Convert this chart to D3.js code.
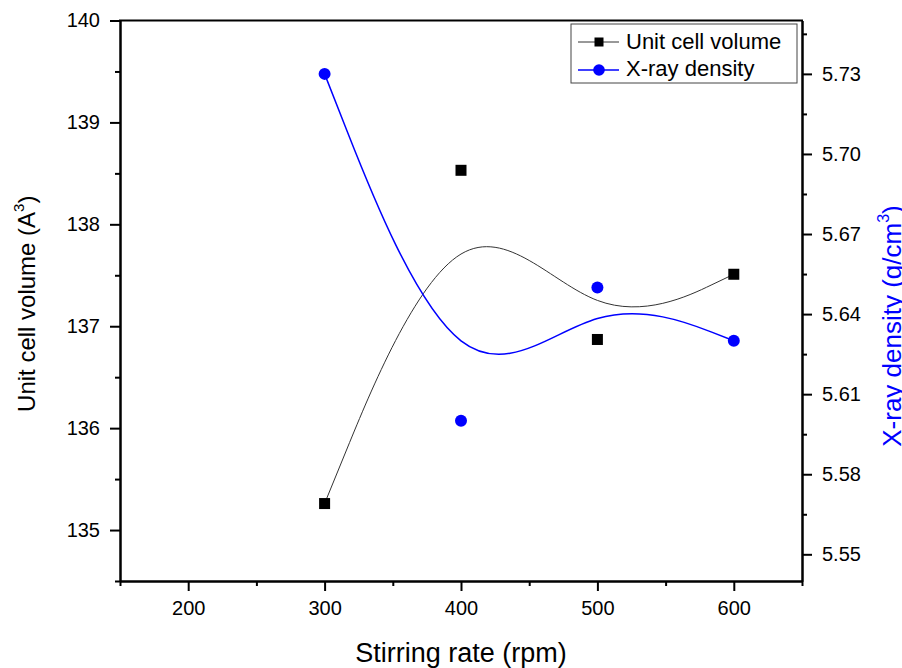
<!DOCTYPE html>
<html>
<head>
<meta charset="utf-8">
<title>Unit cell volume and X-ray density</title>
<script src="https://d3js.org/d3.v7.min.js"></script>
<style>
  body { margin: 0; background: #fff; }
  svg text { font-family: Arial, "Liberation Sans", sans-serif; }
  .axis path, .axis line { stroke: #000; stroke-width: 2; }
  .axis text { font-size: 20px; fill: #000; }
</style>
</head>
<body>
<div id="chart"></div>
<script>
// stirring rate (rpm)
const rates = [300, 400, 500, 600];
// unit cell volume (A^3)
const volume = [135.26, 138.53, 136.87, 137.51];
// X-ray density (g/cm^3)
const density = [5.730, 5.600, 5.650, 5.630];

const xMajor = [200, 300, 400, 500, 600];
const xMinor = [150, 250, 350, 450, 550, 650];
const volMajor = [135, 136, 137, 138, 139, 140];
const volMinor = [134.5, 135.5, 136.5, 137.5, 138.5, 139.5];
const denMajor = [5.55, 5.58, 5.61, 5.64, 5.67, 5.70, 5.73];
const denMinor = [5.565, 5.595, 5.625, 5.655, 5.685, 5.715, 5.745];

const width = 902, height = 668;
const pLeft = 120, pRight = 802, pTop = 20.5, pBottom = 581;

const svg = d3.select("#chart").append("svg")
  .attr("width", width).attr("height", height);

const x = d3.scaleLinear().domain([150, 650]).range([pLeft, pRight]);
const yL = d3.scaleLinear().domain([134.5, 140]).range([pBottom, pTop]);
const yR = d3.scaleLinear().domain([5.54, 5.75]).range([pBottom, pTop]);

// axes
svg.append("g").attr("class", "axis")
  .attr("transform", `translate(0,${pBottom})`)
  .call(d3.axisBottom(x).tickValues(xMajor).tickSize(10).tickSizeOuter(0).tickPadding(10).tickFormat(d3.format("d")));
svg.append("g").attr("class", "axis")
  .attr("transform", `translate(0,${pBottom})`)
  .call(d3.axisBottom(x).tickValues(xMinor).tickSize(5).tickSizeOuter(0).tickFormat(""));

svg.append("g").attr("class", "axis")
  .attr("transform", `translate(${pLeft},0)`)
  .call(d3.axisLeft(yL).tickValues(volMajor).tickSize(10).tickSizeOuter(0).tickPadding(10).tickFormat(d3.format("d")));
svg.append("g").attr("class", "axis")
  .attr("transform", `translate(${pLeft},0)`)
  .call(d3.axisLeft(yL).tickValues(volMinor).tickSize(5).tickSizeOuter(0).tickFormat(""));

svg.append("g").attr("class", "axis")
  .attr("transform", `translate(${pRight},0)`)
  .call(d3.axisRight(yR).tickValues(denMajor).tickSize(10).tickSizeOuter(0).tickPadding(10).tickFormat(d3.format(".2f")));
svg.append("g").attr("class", "axis")
  .attr("transform", `translate(${pRight},0)`)
  .call(d3.axisRight(yR).tickValues(denMinor).tickSize(5).tickSizeOuter(0).tickFormat(""));

// top frame line
svg.append("line")
  .attr("x1", pLeft - 1).attr("x2", pRight + 1)
  .attr("y1", pTop).attr("y2", pTop)
  .attr("stroke", "#000").attr("stroke-width", 2);

// smoothed curves (B-spline through the end points)
const volLine = d3.line().curve(d3.curveBasis)
  .x((d, i) => x(rates[i])).y(d => yL(d));
const denLine = d3.line().curve(d3.curveBasis)
  .x((d, i) => x(rates[i])).y(d => yR(d));

svg.append("path").datum(volume)
  .attr("d", volLine).attr("fill", "none")
  .attr("stroke", "#333").attr("stroke-width", 1);
svg.append("path").datum(density)
  .attr("d", denLine).attr("fill", "none")
  .attr("stroke", "#0000ff").attr("stroke-width", 1.5);

// markers
const sq = 11;
svg.selectAll(".sq").data(volume).enter().append("rect")
  .attr("class", "sq")
  .attr("x", (d, i) => x(rates[i]) - sq / 2)
  .attr("y", d => yL(d) - sq / 2)
  .attr("width", sq).attr("height", sq)
  .attr("fill", "#000");
svg.selectAll(".dot").data(density).enter().append("circle")
  .attr("class", "dot")
  .attr("cx", (d, i) => x(rates[i]))
  .attr("cy", d => yR(d))
  .attr("r", 6)
  .attr("fill", "#0000ff");

// legend
const lg = svg.append("g");
lg.append("rect")
  .attr("x", 571).attr("y", 24).attr("width", 226).attr("height", 59)
  .attr("fill", "#fff").attr("stroke", "#444").attr("stroke-width", 1);
lg.append("line").attr("x1", 578).attr("x2", 619).attr("y1", 42).attr("y2", 42)
  .attr("stroke", "#333").attr("stroke-width", 1);
lg.append("rect").attr("x", 599 - 4.5).attr("y", 42 - 4.5).attr("width", 9).attr("height", 9)
  .attr("fill", "#000");
lg.append("text").attr("x", 626).attr("y", 48.5).attr("font-size", 22)
  .text("Unit cell volume");
lg.append("line").attr("x1", 578).attr("x2", 619).attr("y1", 70).attr("y2", 70)
  .attr("stroke", "#0000ff").attr("stroke-width", 1.5);
lg.append("circle").attr("cx", 599).attr("cy", 70).attr("r", 5.8)
  .attr("fill", "#0000ff");
lg.append("text").attr("x", 626).attr("y", 76).attr("font-size", 22)
  .text("X-ray density");

// axis titles
svg.append("text")
  .attr("x", (pLeft + pRight) / 2).attr("y", 662)
  .attr("text-anchor", "middle").attr("font-size", 27)
  .text("Stirring rate (rpm)");

const ylab = svg.append("text")
  .attr("transform", `translate(35,${(pTop + pBottom) / 2 + 3}) rotate(-90)`)
  .attr("text-anchor", "middle").attr("font-size", 24);
ylab.append("tspan").text("Unit cell volume (A");
ylab.append("tspan").attr("font-size", 15).attr("dy", -11).text("3");
ylab.append("tspan").attr("dy", 11).text(")");

const rlab = svg.append("text")
  .attr("transform", `translate(901,326) rotate(-90)`)
  .attr("text-anchor", "middle").attr("font-size", 26).attr("fill", "#0000ff");
rlab.append("tspan").text("X-ray density (g/cm");
rlab.append("tspan").attr("font-size", 16).attr("dy", -12).text("3");
rlab.append("tspan").attr("dy", 12).text(")");
</script>
</body>
</html>
